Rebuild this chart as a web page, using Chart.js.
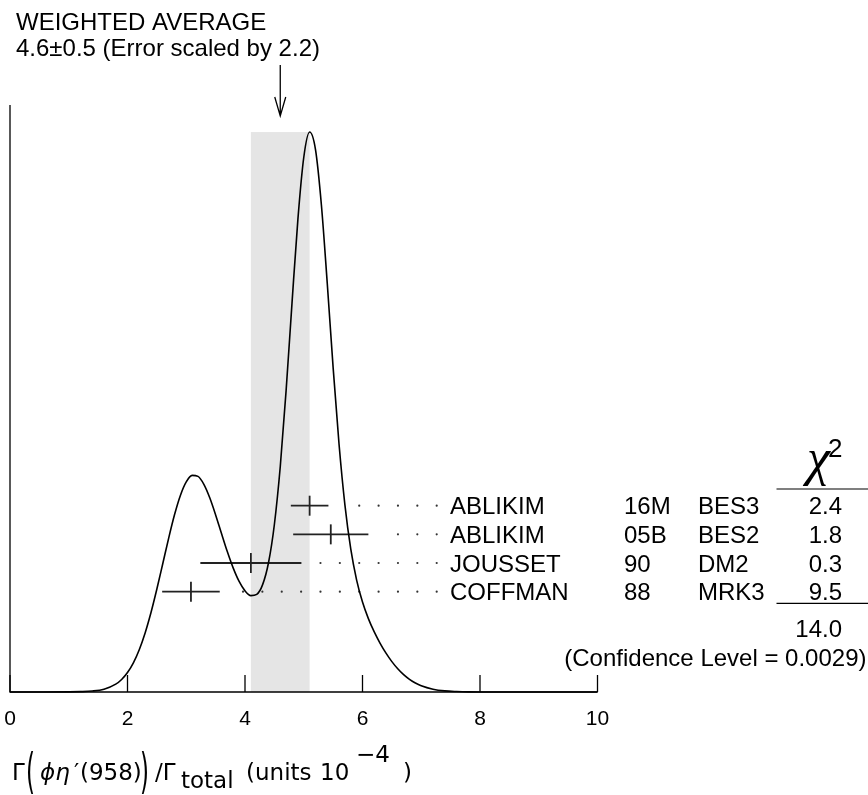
<!DOCTYPE html>
<html>
<head>
<meta charset="utf-8">
<script src="https://cdn.jsdelivr.net/npm/chart.js@4.4.0/dist/chart.umd.min.js"></script>
<style>
html, body { margin: 0; padding: 0; background: #fff; }
#wrap { width: 868px; height: 795px; }
</style>
</head>
<body>
<div id="wrap"><canvas id="myChart" width="868" height="795"></canvas></div>
<script>
// ideogram curve (height relative to the main peak)
var curveX = [0, 0.5, 1.0, 1.2, 1.4, 1.6, 1.8, 1.9, 2.0, 2.1, 2.2, 2.3, 2.4, 2.5, 2.6, 2.7, 2.8, 2.9,
              3.0, 3.1, 3.2, 3.3, 3.4, 3.5, 3.6, 3.7, 3.8, 3.9, 4.0, 4.1, 4.2, 4.3, 4.4, 4.5, 4.6, 4.7, 4.8, 4.9,
              5.0, 5.1, 5.2, 5.3, 5.4, 5.5, 5.6, 5.7, 5.8, 5.9, 6.0, 6.1, 6.2, 6.3, 6.4, 6.5, 6.6, 6.7, 6.8, 6.9,
              7.0, 7.2, 7.4, 7.6, 7.8, 8.0, 9.0, 10.0];
var curveY = [0, 0, 0.0002, 0.0006, 0.0017, 0.0050, 0.0140, 0.0224, 0.0347, 0.0521, 0.0755, 0.1055, 0.1420, 0.1838, 0.2289, 0.2743, 0.3163, 0.3509,
              0.3751, 0.3866, 0.3848, 0.3706, 0.3466, 0.3161, 0.2828, 0.2502, 0.2211, 0.1973, 0.1805, 0.1720, 0.1743, 0.1916, 0.2307, 0.2990, 0.4021, 0.5383, 0.6940, 0.8432,
              0.9540, 0.9994, 0.9680, 0.8696, 0.7296, 0.5790, 0.4430, 0.3345, 0.2553, 0.1998, 0.1605, 0.1310, 0.1072, 0.0869, 0.0693, 0.0542, 0.0414, 0.0309, 0.0225, 0.0160,
              0.0111, 0.0050, 0.0020, 0.0008, 0.0002, 0.0001, 0, 0];

// measurements
var names = ['ABLIKIM', 'ABLIKIM', 'JOUSSET', 'COFFMAN'];
var years = ['16M', '05B', '90', '88'];
var techs = ['BES3', 'BES2', 'DM2', 'MRK3'];
var values = [5.10, 5.46, 4.10, 3.08];
var errors = [0.32, 0.64, 0.86, 0.49];
var chi2 = ['2.4', '1.8', '0.3', '9.5'];
var chi2Total = '14.0';
var confLevel = '0.0029';

var average = 4.6;
var averageErr = 0.5;
var scaleFactor = 2.2;
var xTicks = [0, 2, 4, 6, 8, 10];

var sans = '"Liberation Sans", Arial, Helvetica, sans-serif';
var dv = '"DejaVu Sans", sans-serif';

// guide dots sit on a fixed grid
var dotStart = 3.966, dotStep = 0.3297;
var dots = [];
values.forEach(function (v, i) {
    for (var k = 0; k <= 10; k++) {
        var dx = dotStart + k * dotStep;
        if (dx > v + errors[i] + 0.25) dots.push({x: dx, y: i});
    }
});

var datasets = [];
datasets.push({
    data: curveX.map(function (x, i) { return {x: x, y: curveY[i]}; }),
    yAxisID: 'y',
    borderColor: '#000',
    borderWidth: 1.6,
    pointRadius: 0,
    cubicInterpolationMode: 'monotone',
    fill: false,
    clip: false
});
values.forEach(function (v, i) {
    datasets.push({
        data: [{x: v - errors[i], y: i}, {x: v, y: i}, {x: v + errors[i], y: i}],
        yAxisID: 'yRow',
        borderColor: '#222',
        borderWidth: 1.8,
        pointRadius: [0, 10, 0],
        pointStyle: 'line',
        rotation: 90,
        pointBorderColor: '#222',
        pointBorderWidth: 1.8,
        fill: false,
        clip: false
    });
});
datasets.push({
    data: dots,
    yAxisID: 'yRow',
    showLine: false,
    pointRadius: 1.1,
    pointBackgroundColor: '#333',
    pointBorderWidth: 0,
    clip: false
});

var decor = {
    id: 'decor',
    beforeDatasetsDraw: function (chart) {
        var c = chart.ctx, xs = chart.scales.x, ys = chart.scales.y;
        var x1 = xs.getPixelForValue(average - averageErr);
        var x2 = xs.getPixelForValue(average + averageErr);
        var top = ys.getPixelForValue(Math.max.apply(null, curveY));
        var bot = ys.getPixelForValue(0);
        c.save();
        c.fillStyle = '#e5e5e5';
        c.fillRect(x1, top, x2 - x1, bot - top);
        c.restore();
    },
    afterDatasetsDraw: function (chart) {
        var c = chart.ctx, xs = chart.scales.x, ys = chart.scales.y, rs = chart.scales.yRow;
        var area = chart.chartArea;
        var y0 = ys.getPixelForValue(0);
        c.save();
        c.strokeStyle = '#000';
        c.fillStyle = '#000';
        c.lineWidth = 1.3;

        // axes
        c.beginPath();
        c.moveTo(area.left, area.top);
        c.lineTo(area.left, y0);
        c.lineTo(xs.getPixelForValue(10), y0);
        c.stroke();
        c.font = '21px ' + sans;
        c.textAlign = 'center';
        xTicks.forEach(function (t) {
            var px = xs.getPixelForValue(t);
            c.beginPath();
            c.moveTo(px, y0);
            c.lineTo(px, y0 - 17);
            c.stroke();
            c.fillText(String(t), px, 725);
        });

        // weighted average text and arrow
        c.textAlign = 'left';
        c.font = '24px ' + sans;
        c.fillText('WEIGHTED AVERAGE', 16, 30);
        c.fillText(average.toFixed(1) + '\u00b1' + averageErr.toFixed(1) + ' (Error scaled by ' + scaleFactor.toFixed(1) + ')', 16, 56);
        var ax = xs.getPixelForValue(average);
        c.beginPath();
        c.moveTo(ax, 65);
        c.lineTo(ax, 116);
        c.moveTo(ax - 5.5, 97);
        c.lineTo(ax, 116);
        c.lineTo(ax + 5.5, 97);
        c.stroke();

        // measurement table
        names.forEach(function (n, i) {
            var py = rs.getPixelForValue(i) + 8.5;
            c.textAlign = 'left';
            c.fillText(n, 450, py);
            c.fillText(years[i], 624, py);
            c.fillText(techs[i], 698, py);
            c.textAlign = 'right';
            c.fillText(chi2[i], 842, py);
        });
        var r0 = rs.getPixelForValue(0), r3 = rs.getPixelForValue(3);
        c.textAlign = 'right';
        c.fillText(chi2Total, 842, r3 + 45.5);
        c.fillText('(Confidence Level = ' + confLevel + ')', 866.5, r3 + 74.5);
        c.lineWidth = 1.2;
        c.beginPath();
        c.moveTo(776.5, r0 - 16.7);
        c.lineTo(868, r0 - 16.7);
        c.moveTo(776.5, r3 + 11.6);
        c.lineTo(868, r3 + 11.6);
        c.stroke();
        c.textAlign = 'left';
        c.font = 'italic 52px "Liberation Serif", serif';
        c.fillText('\u03c7', 807, r0 - 31);
        c.font = '26px ' + sans;
        c.fillText('2', 828, r0 - 48.5);

        // x axis title
        var base = 780;
        c.font = '23px ' + dv;
        c.fillText('\u0393', 12, base);
        c.fillText('\u2032', 74, base);
        c.fillText('(958)', 80, base);
        c.fillText('/\u0393', 155, base);
        c.fillText('total', 181, base + 8);
        c.fillText('(units', 246, base);
        c.fillText('10', 320, base);
        c.fillText(')', 403, base);
        c.font = 'italic 23px ' + dv;
        c.fillText('\u03d5\u03b7', 40, base);
        c.font = '23px ' + dv;
        c.fillText('\u22124', 356, base - 18);
        [[26, '('], [140, ')']].forEach(function (p) {
            c.save();
            c.translate(p[0], base + 8);
            c.scale(1, 2.1);
            c.fillText(p[1], 0, 0);
            c.restore();
        });
        c.restore();
    }
};

new Chart(document.getElementById('myChart').getContext('2d'), {
    type: 'line',
    data: { datasets: datasets },
    options: {
        responsive: false,
        animation: false,
        devicePixelRatio: 1,
        events: [],
        layout: { padding: { left: 10, right: 270.5, top: 105, bottom: 103 } },
        plugins: { legend: { display: false }, tooltip: { enabled: false } },
        scales: {
            x: { type: 'linear', min: 0, max: 10, display: false },
            y: { min: 0, max: 1.0477, display: false },
            yRow: { type: 'linear', axis: 'y', position: 'left', min: -13.98, max: 6.5, reverse: true, display: false }
        }
    },
    plugins: [decor]
});
</script>
</body>
</html>
